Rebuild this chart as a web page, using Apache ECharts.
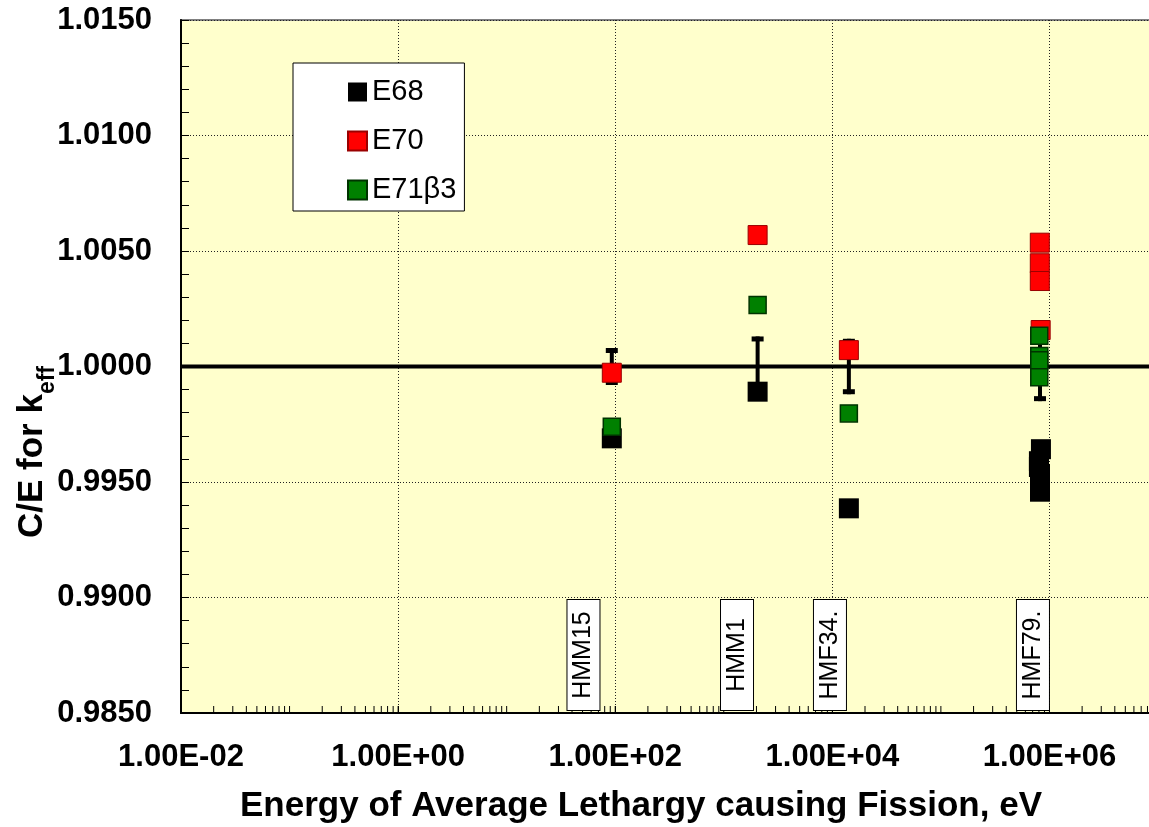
<!DOCTYPE html>
<html><head><meta charset="utf-8">
<script src="https://cdn.jsdelivr.net/npm/echarts@6/dist/echarts.min.js"></script>
<style>html,body{margin:0;padding:0;background:#fff}#c{width:1149px;height:827px}</style>
</head><body><div id="c"></div>
<script>
// ---- data (energies in eV, C/E values) ----
const seriesNames = ['E68', 'E70', 'E71β3'];
const e68Energy = [93, 2050, 14200, 835000, 800000, 800000, 818000, 818000, 818000];
const e68Values = [0.99689, 0.99891, 0.99386, 0.99642, 0.99590, 0.99565, 0.99535, 0.99495, 0.99458];
const e70Energy = [93, 2050, 14200, 815000, 815000, 815000, 830000];
const e70Values = [0.99973, 1.00569, 1.00071, 1.00536, 1.00447, 1.00370, 1.00158];
const e71Energy = [93, 2050, 14200, 806000, 806000, 806000, 806000];
const e71Values = [0.99739, 1.00266, 0.99797, 1.00133, 1.00045, 1.00027, 0.99953];
const errEnergy = [93, 2050, 14200, 818000];
const errCenter = [1.0, 1.0, 1.0, 1.0];
const errHalf = [0.0008, 0.0013, 0.0012, 0.0015];
const benchNames = ['HMM15', 'HMM1', 'HMF34.', 'HMF79.'];
const benchLabelEnergy = [51, 1324, 9510, 705000];
const xTickLabels = ['1.00E-02', '1.00E+00', '1.00E+02', '1.00E+04', '1.00E+06'];
const yTickLabels = ['0.9850', '0.9900', '0.9950', '1.0000', '1.0050', '1.0100', '1.0150'];
const refValue = 1.0;

// ---- axis settings ----
const xMinExp = -2, xMaxExp = 7;
const yMin = 0.985, yMax = 1.015, yStep = 0.005;
const FONT = '"Liberation Sans", Arial, sans-serif';

const lg = v => Math.log10(v);
const pts = (es, vs) => es.map((e, i) => [lg(e), vs[i]]);

// log minor tick positions (2..9 in each decade, plus decades)
const minorTickPos = [];
for (let d = xMinExp; d < xMaxExp; d++) {
  for (let k = 1; k <= 9; k++) minorTickPos.push([d + Math.log10(k), yMin]);
}

const chart = echarts.init(document.getElementById('c'), null, {renderer: 'canvas'});
chart.setOption({
  animation: false,
  backgroundColor: '#ffffff',
  grid: {left: 181, top: 20, right: -9, bottom: 114, show: true,
         backgroundColor: '#FFFFCC', borderColor: '#808080', borderWidth: 2,
         outerBoundsMode: 'none', containLabel: false},
  legend: {
    data: seriesNames, orient: 'vertical', left: 293, top: 63,
    padding: [14, 8, 6, 54], itemGap: 19, itemWidth: 19, itemHeight: 19,
    backgroundColor: '#ffffff', borderColor: '#000', borderWidth: 1, borderRadius: 0,
    textStyle: {fontFamily: FONT, fontSize: 29, color: '#000', lineHeight: 30},
    selectedMode: false
  },
  xAxis: {
    type: 'value', min: xMinExp, max: xMaxExp, interval: 2,
    axisLine: {show: true, onZero: false, lineStyle: {color: '#000', width: 2}},
    axisTick: {show: true, inside: true, length: 7, lineStyle: {color: '#000'}},
    axisLabel: {fontFamily: FONT, fontSize: 31, fontWeight: 'bold', color: '#000', margin: 29,
      formatter: v => (Number.isInteger(v) && v % 2 === 0 && v >= xMinExp && v <= 6) ? xTickLabels[(v - xMinExp) / 2] : ''},
    splitLine: {show: true, lineStyle: {color: '#222', type: [1, 2], width: 1}}
  },
  yAxis: {
    type: 'value', min: yMin, max: yMax, interval: yStep,
    axisLine: {show: true, onZero: false, lineStyle: {color: '#000', width: 2}},
    axisTick: {show: true, inside: true, length: 8, lineStyle: {color: '#000'}},
    minorTick: {show: true, splitNumber: 5, length: 8, lineStyle: {color: '#000'}},
    axisLabel: {fontFamily: FONT, fontSize: 31, fontWeight: 'bold', color: '#000', margin: 29,
      formatter: v => yTickLabels[Math.round((v - yMin) / yStep)]},
    splitLine: {show: true, lineStyle: {color: '#222', type: [1, 2], width: 1}}
  },
  graphic: [
    {type: 'text', x: 641, y: 806, z: 100,
     style: {text: 'Energy of Average Lethargy causing Fission, eV', fontFamily: FONT, fontSize: 35,
             fontWeight: 'bold', fill: '#000', align: 'center', verticalAlign: 'middle'}},
    {type: 'text', x: 32, y: 452, rotation: Math.PI / 2, z: 100,
     style: {text: '{a|C/E for k}{b|eff}', align: 'center', verticalAlign: 'middle', fill: '#000',
             rich: {a: {fontFamily: FONT, fontSize: 35, fontWeight: 'bold', lineHeight: 54, verticalAlign: 'middle'},
                    b: {fontFamily: FONT, fontSize: 23, fontWeight: 'bold', lineHeight: 23, verticalAlign: 'bottom'}}}}
  ],
  series: [
    {name: 'ref', type: 'line', data: [[xMinExp, refValue], [xMaxExp, refValue]], symbol: 'none',
     lineStyle: {color: '#000', width: 4}, z: 1, silent: true},
    {name: 'ticks', type: 'custom', data: minorTickPos, z: 5, silent: true, clip: false,
     renderItem: (params, api) => {
       const p = api.coord([api.value(0), api.value(1)]);
       return {type: 'line', shape: {x1: p[0], y1: p[1], x2: p[0], y2: p[1] - 7},
               style: {stroke: '#000', lineWidth: 1}};
     }},
    {name: 'err', type: 'custom', z: 2, silent: true,
     data: errEnergy.map((e, i) => [lg(e), errCenter[i] - errHalf[i], errCenter[i] + errHalf[i]]),
     encode: {x: 0, y: [1, 2]},
     renderItem: (params, api) => {
       const x = api.value(0);
       const lo = api.coord([x, api.value(1)]);
       const hi = api.coord([x, api.value(2)]);
       const st = {stroke: '#000', lineWidth: 4};
       return {type: 'group', children: [
         {type: 'line', shape: {x1: lo[0], y1: lo[1], x2: hi[0], y2: hi[1]}, style: st},
         {type: 'line', shape: {x1: hi[0] - 6, y1: hi[1] + 2.5, x2: hi[0] + 6, y2: hi[1] + 2.5}, style: {stroke: '#000', lineWidth: 5}},
         {type: 'line', shape: {x1: lo[0] - 6, y1: lo[1] - 2.5, x2: lo[0] + 6, y2: lo[1] - 2.5}, style: {stroke: '#000', lineWidth: 5}}
       ]};
     }},
    {name: seriesNames[0], type: 'scatter', symbol: 'rect', symbolSize: 20, z: 3,
     itemStyle: {color: '#000000', opacity: 1}, data: pts(e68Energy, e68Values)},
    {name: seriesNames[1], type: 'scatter', symbol: 'rect', symbolSize: 19, z: 3,
     itemStyle: {color: '#FF0000', borderColor: '#9A0000', borderWidth: 1, opacity: 1}, data: pts(e70Energy, e70Values)},
    {name: seriesNames[2], type: 'scatter', symbol: 'rect', symbolSize: 17, z: 3,
     itemStyle: {color: '#008000', borderColor: '#003300', borderWidth: 1.5, opacity: 1}, data: pts(e71Energy, e71Values)},
    {name: 'bench', type: 'custom', z: 6, silent: true, clip: false,
     data: benchLabelEnergy.map(e => [lg(e), yMin]),
     renderItem: (params, api) => {
       const p = api.coord([api.value(0), api.value(1)]);
       return {type: 'text', x: p[0], y: p[1] - 58, rotation: Math.PI / 2,
               style: {text: benchNames[params.dataIndex], fontFamily: FONT, fontSize: 25, fill: '#000',
                       align: 'center', verticalAlign: 'middle', width: 92, lineHeight: 24,
                       backgroundColor: '#fff', borderColor: '#000', borderWidth: 1, padding: [4, 9]}};
     }}
  ]
});
</script></body></html>
